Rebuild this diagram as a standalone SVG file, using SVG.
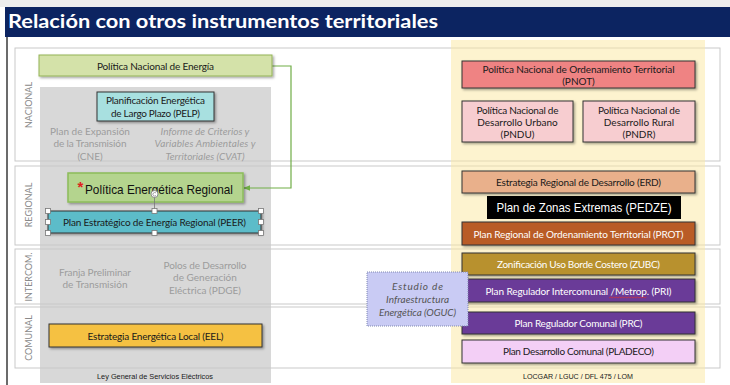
<svg xmlns="http://www.w3.org/2000/svg" width="730" height="385" viewBox="0 0 730 385">
<defs>
<filter id="sh" x="-10%" y="-20%" width="120%" height="150%"><feDropShadow dx="1.5" dy="1.5" stdDeviation="1" flood-color="#000" flood-opacity="0.35"/></filter>
<marker id="arr" viewBox="0 0 10 10" refX="9" refY="5" markerWidth="6" markerHeight="6" orient="auto"><path d="M0,1 L10,5 L0,9 z" fill="#70ad47"/></marker>
<style>
.t{font-family:Lato,'Liberation Sans',sans-serif;font-size:10px;fill:#1a1a1a;text-anchor:middle}
.w{fill:#fff}
.g{fill:#9c9c9c}
.i{font-style:italic}
.a{font-family:'Liberation Sans',Arial,sans-serif}
.lab{font-family:Lato,'Liberation Sans',sans-serif;font-size:9px;fill:#8a8a8a;text-anchor:middle;dominant-baseline:central}
.row{fill:none;stroke:#c9c9c9;stroke-width:1}
.bx{stroke:#333;stroke-width:1;filter:url(#sh)}
.hd{fill:#fff;stroke:#777;stroke-width:0.8}
.ft{font-family:'Liberation Sans',Arial,sans-serif;font-size:7.5px;fill:#1a1a1a;text-anchor:middle}
</style>
</defs>
<rect width="730" height="385" fill="#fff"/>
<rect width="730" height="7" fill="#ededed"/>
<rect x="5" y="7" width="725" height="30" fill="#0c2461"/>
<text x="8" y="28" font-family="Lato,'Liberation Sans',sans-serif" font-weight="bold" font-size="19.5" fill="#fff" textLength="430" lengthAdjust="spacingAndGlyphs">Relación con otros instrumentos territoriales</text>
<line x1="7" y1="37" x2="7" y2="385" stroke="#3a3a3a" stroke-width="1.5"/>

<g id="rows">
<rect class="row" x="15" y="48" width="705" height="113"/>
<rect class="row" x="15" y="166" width="705" height="79"/>
<rect class="row" x="15" y="249" width="705" height="55"/>
<rect class="row" x="15" y="307" width="705" height="61"/>
<text class="lab" transform="translate(28,105) rotate(-90)">NACIONAL</text>
<text class="lab" transform="translate(28,205) rotate(-90)">REGIONAL</text>
<text class="lab" transform="translate(28,277) rotate(-90)">INTERCOM.</text>
<text class="lab" transform="translate(28,338) rotate(-90)">COMUNAL</text>
</g>

<g id="panels">
<rect x="40" y="87" width="231" height="296" fill="#c8c8c8" opacity="0.7"/>
<rect x="451" y="40" width="254" height="343" fill="#fbe7a0" opacity="0.5"/>
<text class="ft" x="155" y="379" textLength="116" lengthAdjust="spacingAndGlyphs">Ley General de Servicios Eléctricos</text>
<text class="ft" x="578" y="379" textLength="110" lengthAdjust="spacingAndGlyphs">LOCGAR / LGUC / DFL 475 / LOM</text>
</g>

<g id="connectors">
<path d="M272,66 H291 V188 H244" fill="none" stroke="#70ad47" stroke-width="1.2" marker-end="url(#arr)"/>
</g>

<g id="pne">
<rect class="bx" x="39" y="55" width="233" height="21" fill="#d4e2a9" style="stroke:#93b356"/>
<text class="t" x="155.5" y="69.5" textLength="117">Política Nacional de Energía</text>
</g>
<g id="pelp">
<rect class="bx" x="97" y="92" width="117" height="29" fill="#a8e0e0"/>
<text class="t" x="155.5" y="104" textLength="99">Planificación Energética</text>
<text class="t" x="155.5" y="117" textLength="89">de Largo Plazo (PELP)</text>
</g>
<g id="cne">
<text class="t g" x="90" y="134.5">Plan de Expansión</text>
<text class="t g" x="90" y="147" textLength="73">de la Transmisión</text>
<text class="t g" x="90" y="159.5">(CNE)</text>
</g>
<g id="cvat">
<text class="t g i" x="205" y="134.5">Informe de Criterios y</text>
<text class="t g i" x="205" y="147" textLength="101">Variables Ambientales y</text>
<text class="t g i" x="205" y="159.5">Territoriales (CVAT)</text>
</g>
<g id="per">
<rect class="bx" x="68" y="173" width="175" height="29" fill="#b4d48e" style="stroke:#8cbc5a;stroke-width:1.5"/>
<text x="77.5" y="192" font-family="'Liberation Sans',Arial,sans-serif" font-size="15" font-weight="bold" fill="#e02020">*</text>
<text class="a" x="85" y="194" font-size="13" fill="#111" textLength="148" lengthAdjust="spacingAndGlyphs">Política Energética Regional</text>
</g>
<g id="peer">
<rect class="bx" x="48" y="211" width="213" height="22" fill="#5bbcc9"/>
<text class="t" x="154.5" y="226" textLength="183">Plan Estratégico de Energía Regional (PEER)</text>
<line x1="154.5" y1="197" x2="154.5" y2="211" stroke="#777" stroke-width="0.8"/>
<circle cx="154.5" cy="194" r="3.5" fill="#fff" stroke="#777" stroke-width="0.8"/>
<path d="M156,193 A1.8,1.8 0 1 0 156,195.5" fill="none" stroke="#777" stroke-width="0.7"/>
<rect class="hd" x="45.5" y="208.5" width="5" height="5"/>
<rect class="hd" x="152" y="208.5" width="5" height="5"/>
<rect class="hd" x="258.5" y="208.5" width="5" height="5"/>
<rect class="hd" x="45.5" y="219.5" width="5" height="5"/>
<rect class="hd" x="258.5" y="219.5" width="5" height="5"/>
<rect class="hd" x="45.5" y="230.5" width="5" height="5"/>
<rect class="hd" x="152" y="230.5" width="5" height="5"/>
<rect class="hd" x="258.5" y="230.5" width="5" height="5"/>
</g>
<g id="franja">
<text class="t g" x="95" y="275.5" textLength="72">Franja Preliminar</text>
<text class="t g" x="95" y="287.5">de Transmisión</text>
</g>
<g id="pdge">
<text class="t g" x="205" y="268.5" textLength="83">Polos de Desarrollo</text>
<text class="t g" x="205" y="281">de Generación</text>
<text class="t g" x="205" y="294">Eléctrica (PDGE)</text>
</g>
<g id="eel">
<rect class="bx" x="49" y="324" width="213" height="23" fill="#f5c143"/>
<text class="t" x="155.5" y="340" font-size="11" textLength="136">Estrategia Energética Local (EEL)</text>
</g>

<g id="pnot">
<rect class="bx" x="462" y="61" width="233" height="27" fill="#ef8383"/>
<text class="t" x="578.5" y="73" textLength="192">Política Nacional de Ordenamiento Territorial</text>
<text class="t" x="578.5" y="85">(PNOT)</text>
</g>
<g id="pndu">
<rect class="bx" x="462" y="101" width="111" height="41" fill="#f7cdd0"/>
<text class="t" x="517.5" y="114" textLength="82">Política Nacional de</text>
<text class="t" x="517.5" y="126">Desarrollo Urbano</text>
<text class="t" x="517.5" y="138">(PNDU)</text>
</g>
<g id="pndr">
<rect class="bx" x="583" y="101" width="112" height="41" fill="#f7cdd0"/>
<text class="t" x="639" y="114" textLength="82">Política Nacional de</text>
<text class="t" x="639" y="126">Desarrollo Rural</text>
<text class="t" x="639" y="138">(PNDR)</text>
</g>
<g id="erd">
<rect class="bx" x="462" y="171" width="233" height="22" fill="#e9b08b"/>
<text class="t" x="578.5" y="186" textLength="165">Estrategia Regional de Desarrollo (ERD)</text>
</g>
<g id="pedze">
<rect x="487" y="196" width="194" height="23" fill="#000"/>
<text class="a" x="584" y="212" font-size="13.5" fill="#fff" text-anchor="middle" textLength="175" lengthAdjust="spacingAndGlyphs">Plan de Zonas Extremas (PEDZE)</text>
</g>
<g id="prot">
<rect class="bx" x="462" y="222" width="233" height="23" fill="#b95b28"/>
<text class="t w" x="578.5" y="237.5" textLength="210">Plan Regional de Ordenamiento Territorial (PROT)</text>
</g>
<g id="zubc">
<rect class="bx" x="462" y="253" width="233" height="22" fill="#b8912f"/>
<text class="t w" x="578.5" y="268" textLength="163">Zonificación Uso Borde Costero (ZUBC)</text>
</g>
<g id="pri">
<rect class="bx" x="462" y="279" width="233" height="23" fill="#6a3b98"/>
<text class="t w" x="578.5" y="295" textLength="186">Plan Regulador Intercomunal /Metrop. (PRI)</text>
<path d="M609,298 l1.5,-1 l1.5,1 l1.5,-1 l1.5,1 l1.5,-1 l1.5,1 l1.5,-1 l1.5,1 l1.5,-1 l1.5,1 l1.5,-1 l1.5,1 l1.5,-1 l1.5,1 l1.5,-1 l1.5,1 l1.5,-1 l1.5,1 l1.5,-1 l1.5,1 l1.5,-1 l1.5,1 l1.5,-1 l1.5,1 l1.5,-1" fill="none" stroke="#e03030" stroke-width="0.7"/>
</g>
<g id="prc">
<rect class="bx" x="462" y="312" width="233" height="22" fill="#6a3b98"/>
<text class="t w" x="578.5" y="327" textLength="128">Plan Regulador Comunal (PRC)</text>
</g>
<g id="pladeco">
<rect class="bx" x="462" y="340" width="233" height="23" fill="#f3cff6"/>
<text class="t" x="578.5" y="355" textLength="151">Plan Desarrollo Comunal (PLADECO)</text>
</g>
<g id="oguc">
<rect x="367" y="272" width="101" height="54" fill="#c9cbf4" stroke="#8088b0" stroke-width="1" stroke-dasharray="1 1"/>
<text class="t i" x="417.5" y="290" font-size="10.5" style="fill:#555" textLength="51">Estudio de</text>
<text class="t i" x="417.5" y="303" font-size="10.5" style="fill:#555" textLength="63">Infraestructura</text>
<text class="t i" x="417.5" y="316" font-size="10.5" style="fill:#555" textLength="77">Energética (OGUC)</text>
</g>
</svg>
